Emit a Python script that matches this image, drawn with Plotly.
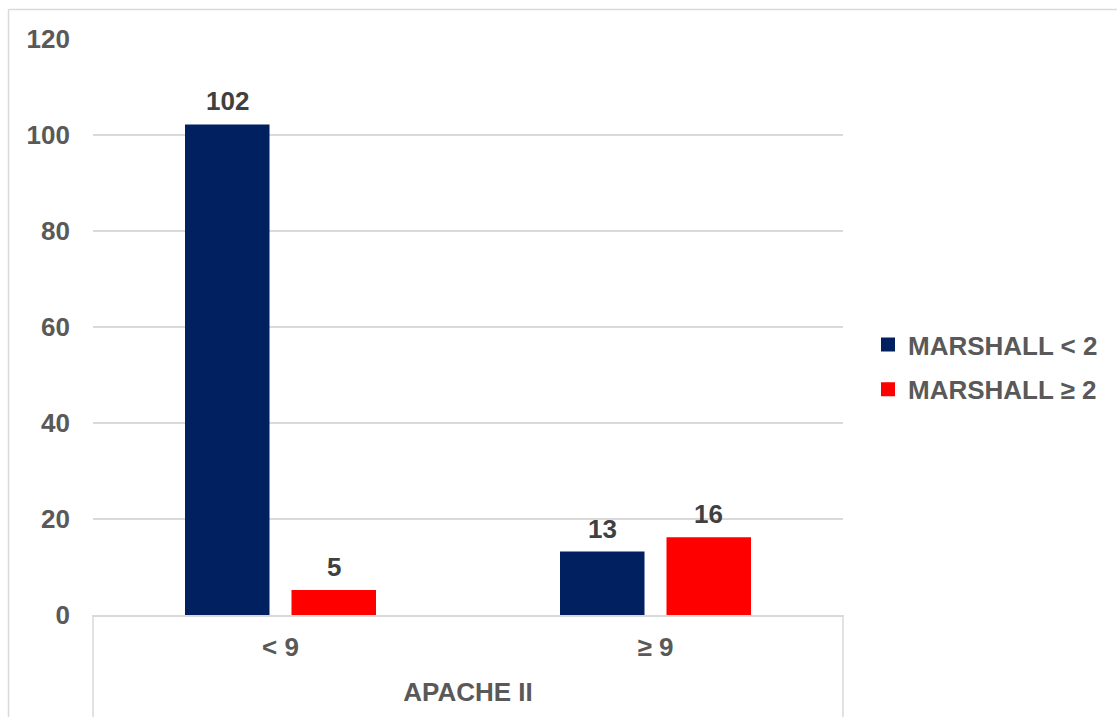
import plotly.graph_objects as go

# APACHE II score groups and patient counts per MARSHALL score band
categories = ["< 9", "≥ 9"]
marshall_lt2 = [102, 13]
marshall_ge2 = [5, 16]
series_names = ["MARSHALL < 2", "MARSHALL ≥ 2"]
series_colors = ["#002060", "#FF0000"]
y_ticks = [0, 20, 40, 60, 80, 100, 120]

W, H = 1117, 717
L, R, T, B = 93, 274, 39, 102
FONT = "Arial, Liberation Sans, sans-serif"
FS = 26
GRID = "#D9D9D9"
TXT = "#595959"
BARGAP = 0.432
GROUPGAP = 0.2254

pw = W - L - R
ph = H - T - B

def px_x(x):
    return (x - L) / pw

def px_y(y):
    return (H - B - y) / ph

fig = go.Figure()
series = [marshall_lt2, marshall_ge2]
n_series = len(series)
# width of one bar slot inside a category group, in pixels
slot_px = pw / len(categories) * (1 - BARGAP) / n_series
annotations = []
for j, (name, vals, color) in enumerate(zip(series_names, series, series_colors)):
    fig.add_trace(go.Bar(
        x=categories, y=vals, name=name, legendgroup=f"g{j}",
        marker=dict(color=color, line=dict(width=2, color=color)),
    ))
    # value labels above each bar
    for cat, v in zip(categories, vals):
        annotations.append(dict(
            x=cat, y=v, xref="x", yref="y", text=str(v), showarrow=False,
            xanchor="center", yanchor="bottom",
            xshift=(j - (n_series - 1) / 2) * slot_px, yshift=7,
            font=dict(family=FONT, size=FS, color="#404040", weight="bold"),
        ))

shapes = [
    # outer chart frame (top and left edges)
    dict(type="line", xref="paper", yref="paper", x0=px_x(8.5), x1=px_x(W + 5),
         y0=px_y(9.5), y1=px_y(9.5), line=dict(color=GRID, width=1.5)),
    dict(type="line", xref="paper", yref="paper", x0=px_x(8.5), x1=px_x(8.5),
         y0=px_y(9.5), y1=px_y(H + 5), line=dict(color=GRID, width=1.5)),
    # category table dividers below the axis
    dict(type="line", xref="paper", yref="paper", x0=0, x1=0,
         y0=0, y1=px_y(H + 5), line=dict(color=GRID, width=1.5)),
    dict(type="line", xref="paper", yref="paper", x0=1, x1=1,
         y0=0, y1=px_y(H + 5), line=dict(color=GRID, width=1.5)),
]

fig.update_layout(
    width=W, height=H,
    margin=dict(l=L, r=R, t=T, b=B),
    paper_bgcolor="white", plot_bgcolor="white",
    barmode="group", bargap=BARGAP, bargroupgap=GROUPGAP,
    font=dict(family=FONT, size=FS, color=TXT, weight="bold"),
    showlegend=True,
    legend=dict(x=px_x(868), y=px_y(367), xanchor="left", yanchor="middle",
                font=dict(family=FONT, size=FS, color=TXT, weight="bold"),
                bgcolor="rgba(0,0,0,0)", itemwidth=30, tracegroupgap=8,
                traceorder="grouped"),
    shapes=shapes,
    annotations=annotations,
    xaxis=dict(
        type="category", showgrid=False, showline=True, linecolor=GRID, linewidth=1.5,
        ticks="", ticklabelstandoff=8,
        tickfont=dict(family=FONT, size=FS, color=TXT, weight="bold"),
        title=dict(text="APACHE II", standoff=22,
                   font=dict(family=FONT, size=FS, color=TXT, weight="bold")),
    ),
    yaxis=dict(
        range=[0, 120], tickvals=y_ticks, showgrid=True, gridcolor=GRID, gridwidth=1.5,
        zeroline=False, showline=False, ticks="", ticklabelstandoff=22,
        tickfont=dict(family=FONT, size=FS, color=TXT, weight="bold"),
    ),
)

fig.write_html("out.html")
